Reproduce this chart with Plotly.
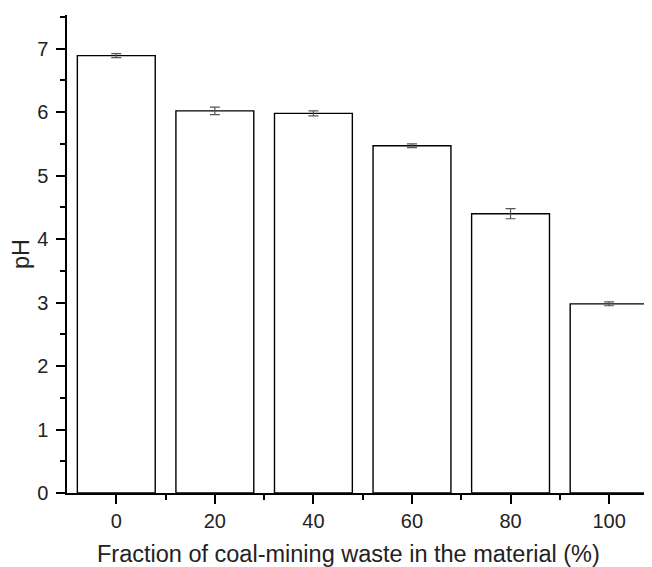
import plotly.graph_objects as go

fractions = [0, 20, 40, 60, 80, 100]
ph_values = [6.89, 6.02, 5.98, 5.47, 4.40, 2.98]
ph_errors = [0.03, 0.06, 0.04, 0.03, 0.08, 0.03]
tick_labels = ["0", "20", "40", "60", "80", "100"]

fig = go.Figure()
fig.add_trace(go.Bar(
    x=fractions, y=ph_values, width=15.8,
    marker=dict(color="white", line=dict(color="black", width=1.4)),
    error_y=dict(type="data", array=ph_errors, visible=True,
                 color="#555555", thickness=1.2, width=5),
))

fig.update_layout(
    width=644, height=559,
    margin=dict(l=59, r=0, t=7, b=74),
    paper_bgcolor="white", plot_bgcolor="white",
    showlegend=False,
    font=dict(family="Liberation Sans, Arial, sans-serif", color="#222222"),
    xaxis=dict(
        range=[-10, 108.7], tickmode="array", tickvals=fractions, ticktext=tick_labels,
        ticks="outside", ticklen=9, tickwidth=1.5, tickcolor="black",
        showline=True, linecolor="black", linewidth=1.5, showgrid=False, zeroline=False,
        tickfont=dict(size=20), automargin=False,
        minor=dict(tickvals=[10, 30, 50, 70, 90], ticks="outside", ticklen=5, tickwidth=1.5, tickcolor="black"),
    ),
    yaxis=dict(
        range=[0, 7.53], tickvals=[0, 1, 2, 3, 4, 5, 6, 7],
        ticks="outside", ticklen=9, tickwidth=1.5, tickcolor="black",
        showline=True, linecolor="black", linewidth=1.5, showgrid=False, zeroline=False,
        tickfont=dict(size=20), automargin=False, ticklabelstandoff=4,
        minor=dict(tickvals=[0.5, 1.5, 2.5, 3.5, 4.5, 5.5, 6.5, 7.5], ticks="outside", ticklen=5, tickwidth=1.5, tickcolor="black"),
        title=dict(text="pH", font=dict(size=23.5), standoff=6),
    ),
    annotations=[dict(
        text="Fraction of coal-mining waste in the material (%)",
        xref="paper", yref="paper", x=0.482, y=0, xanchor="center", yanchor="top",
        yshift=-46, showarrow=False, font=dict(size=23.5),
    )],
)

fig.write_html("out.html")
